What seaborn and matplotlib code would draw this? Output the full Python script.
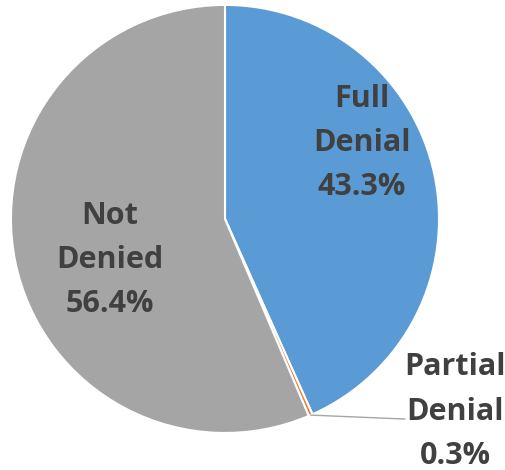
import numpy as np
import seaborn as sns
import matplotlib.pyplot as plt

categories = ['Full Denial', 'Partial Denial', 'Not Denied']
shares = [43.3, 0.3, 56.4]
label_text = ['Full\nDenial', 'Partial\nDenial', 'Not\nDenied']
colors = ['#5B9BD5', '#ED7D31', '#A5A5A5']

sns.set_theme(style='white')
plt.rcParams['font.family'] = ['Open Sans', 'DejaVu Sans']

fig = plt.figure(figsize=(5.05, 4.70), dpi=100)
ax = fig.add_axes([0, 0, 1, 1])
ax.pie(shares, colors=colors, startangle=90, counterclock=False,
       wedgeprops=dict(edgecolor='white', linewidth=1.5))
ax.set_aspect('equal')
ax.set_xlim(-1.051, 1.308)
ax.set_ylim(-1.173, 1.023)
ax.axis('off')

# label spots, picked like Excel's best fit
label_pos = [(0.640, 0.355), (1.075, -0.900), (-0.537, -0.192)]
for txt, val, (x, y) in zip(label_text, shares, label_pos):
    ax.text(x, y, f'{txt}\n{val:.1f}%', ha='center', va='center',
            fontsize=22, fontweight='bold', color='#404040', linespacing=1.62)

# leader line for the thin slice
mid = np.deg2rad(90 - (shares[0] + shares[1] / 2) * 3.6)
ax.plot([np.cos(mid), 0.841], [np.sin(mid), -0.935], color='#A6A6A6', lw=1)

fig.savefig('out.png', dpi=100)
